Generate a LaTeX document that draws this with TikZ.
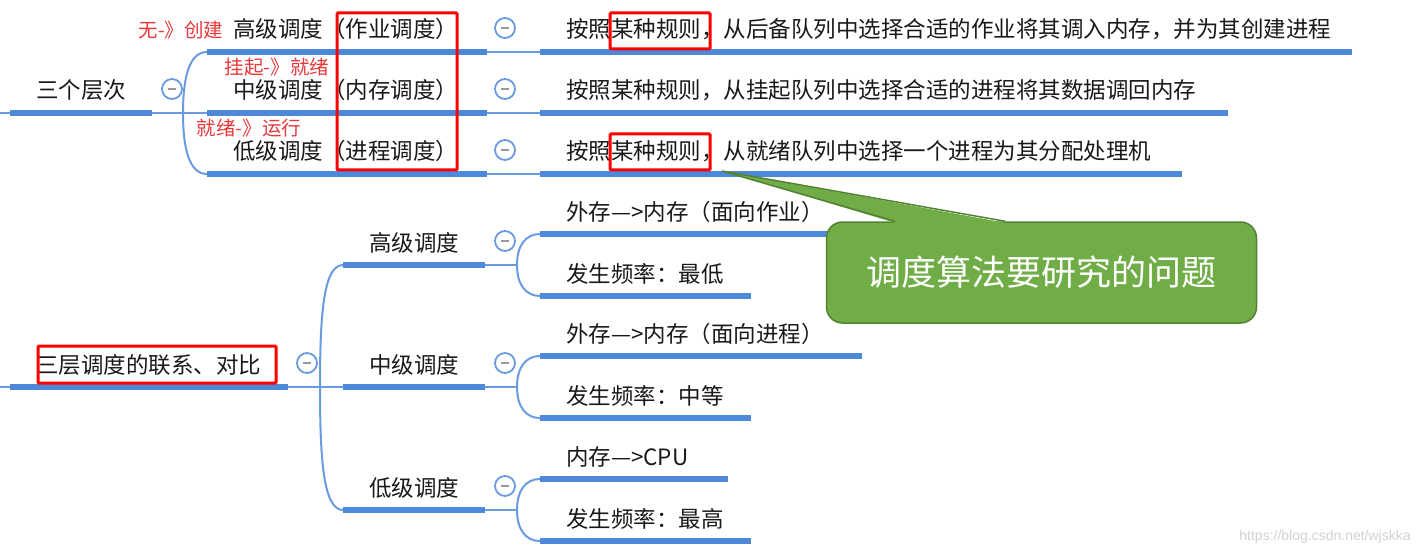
\documentclass[tikz,border=0pt]{standalone}
\usepackage{fontspec}
\newfontfamily\cjk{Noto Sans CJK SC}
\newfontfamily\wmfont{Liberation Sans}
\definecolor{barblue}{HTML}{4D88D9}
\definecolor{linkblue}{HTML}{6A9BE0}
\definecolor{markred}{HTML}{FF0000}
\definecolor{notered}{HTML}{E8383A}
\definecolor{tipgreen}{HTML}{70AD47}
\definecolor{tipedge}{HTML}{548235}
\begin{document}
  \begin{tikzpicture}[x=1pt, y=-1pt,
      topic/.style={anchor=south west, outer sep=0pt, inner xsep=26pt, inner ysep=10pt,
        text height=16pt, text depth=4pt, text width=#1, align=left,
        font=\cjk\fontsize{22.5}{27}\selectfont, text=black!90},
      thickbar/.style={barblue, line width=6pt},
      link/.style={linkblue, line width=2pt},
      fold/.style={circle, draw=linkblue, line width=1.8pt, fill=white, minimum size=20pt, inner sep=0pt,
        path picture={\draw [black!40, line width=2.5pt] ([xshift=-4pt]path picture bounding box.center) -- ([xshift=4pt]path picture bounding box.center);}},
      hl/.style={draw=markred, line width=3pt, rounded corners=1pt},
      note/.style={text=notered, font=\cjk\fontsize{19.5}{23}\selectfont},
      bubble/.style={draw=tipedge, fill=tipgreen, line width=1.5pt, rounded corners=16pt,
        minimum width=430pt, minimum height=101pt, text=white, font=\cjk\fontsize{35}{40}\selectfont},
      wm/.style={text=black!18, font=\wmfont\fontsize{14}{16}\selectfont}]
    \useasboundingbox (0, 0) rectangle (1426, 556);
    \node [topic=90pt] (T0) at (10, 113) {三个层次};
    \node [topic=228pt] (A1) at (207, 52) {高级调度（作业调度）};
    \node [topic=228pt] (A2) at (207, 113) {中级调度（内存调度）};
    \node [topic=228pt] (A3) at (207, 174) {低级调度（进程调度）};
    \node [topic=760pt] (B1) at (540, 52) {按照某种规则，从后备队列中选择合适的作业将其调入内存，并为其创建进程};
    \node [topic=636pt] (B2) at (540, 113) {按照某种规则，从挂起队列中选择合适的进程将其数据调回内存};
    \node [topic=590pt] (B3) at (540, 174) {按照某种规则，从就绪队列中选择一个进程为其分配处理机};
    \node [note] (N1) at (181, 30) {无-》创建};
    \node [note] (N2) at (277, 67) {挂起-》就绪};
    \node [note] (N3) at (249, 128) {就绪-》运行};
    \node [topic=226pt] (S0) at (10, 387) {三层调度的联系、对比};
    \node [topic=90pt] (M1) at (343, 265) {高级调度};
    \node [topic=90pt] (M2) at (343, 387) {中级调度};
    \node [topic=90pt] (M3) at (343, 510) {低级调度};
    \node [topic=280pt] (D1) at (540, 234) {\mbox{外存—>内存（面向作业）}};
    \node [topic=159pt] (D2) at (540, 296) {发生频率：最低};
    \node [topic=270pt] (D3) at (540, 356) {\mbox{外存—>内存（面向进程）}};
    \node [topic=159pt] (D4) at (540, 418) {发生频率：中等};
    \node [topic=136pt] (D5) at (540, 479) {\mbox{内存—>CPU}};
    \node [topic=159pt] (D6) at (540, 541) {发生频率：最高};
    \coordinate (E0) at (0, 113);
    \coordinate (E1) at (0, 387);
    \draw [link] (E0) to (T0.south west);
    \draw [link] (T0.south east) -- ++(31, 0) coordinate (J0);
    \draw [link] (J0) .. controls +(0, -35) and +(-18, 0) .. (A1.south west);
    \draw [link] (J0) to (A2.south west);
    \draw [link] (J0) .. controls +(0, 35) and +(-18, 0) .. (A3.south west);
    \draw [link] (A1.south east) to (B1.south west);
    \draw [link] (A2.south east) to (B2.south west);
    \draw [link] (A3.south east) to (B3.south west);
    \draw [link] (E1) to (S0.south west);
    \draw [link] (S0.south east) -- ++(32, 0) coordinate (J1);
    \draw [link] (J1) .. controls +(0, -70) and +(-20, 0) .. (M1.south west);
    \draw [link] (J1) to (M2.south west);
    \draw [link] (J1) .. controls +(0, 70) and +(-20, 0) .. (M3.south west);
    \draw [link] (M1.south east) -- ++(32, 0) coordinate (K1);
    \draw [link] (K1) .. controls +(0, -20) and +(-14, 0) .. (D1.south west);
    \draw [link] (K1) .. controls +(0, 20) and +(-14, 0) .. (D2.south west);
    \draw [link] (M2.south east) -- ++(32, 0) coordinate (K2);
    \draw [link] (K2) .. controls +(0, -20) and +(-14, 0) .. (D3.south west);
    \draw [link] (K2) .. controls +(0, 20) and +(-14, 0) .. (D4.south west);
    \draw [link] (M3.south east) -- ++(32, 0) coordinate (K3);
    \draw [link] (K3) .. controls +(0, -20) and +(-14, 0) .. (D5.south west);
    \draw [link] (K3) .. controls +(0, 20) and +(-14, 0) .. (D6.south west);
    \draw [thickbar] (T0.south west) to (T0.south east);
    \draw [thickbar] (A1.south west) to (A1.south east);
    \draw [thickbar] (A2.south west) to (A2.south east);
    \draw [thickbar] (A3.south west) to (A3.south east);
    \draw [thickbar] (B1.south west) to (B1.south east);
    \draw [thickbar] (B2.south west) to (B2.south east);
    \draw [thickbar] (B3.south west) to (B3.south east);
    \draw [thickbar] (S0.south west) to (S0.south east);
    \draw [thickbar] (M1.south west) to (M1.south east);
    \draw [thickbar] (M2.south west) to (M2.south east);
    \draw [thickbar] (M3.south west) to (M3.south east);
    \draw [thickbar] (D1.south west) to (D1.south east);
    \draw [thickbar] (D2.south west) to (D2.south east);
    \draw [thickbar] (D3.south west) to (D3.south east);
    \draw [thickbar] (D4.south west) to (D4.south east);
    \draw [thickbar] (D5.south west) to (D5.south east);
    \draw [thickbar] (D6.south west) to (D6.south east);
    \node [fold] (F0) at (172, 89) {};
    \node [fold] (F1) at (505, 28) {};
    \node [fold] (F2) at (505, 89) {};
    \node [fold] (F3) at (505, 150) {};
    \node [fold] (G0) at (307, 363) {};
    \node [fold] (G1) at (505, 241) {};
    \node [fold] (G2) at (505, 363) {};
    \node [fold] (G3) at (505, 486) {};
    \draw [hl] (337, 13) rectangle (457, 170);
    \draw [hl] (610, 13) rectangle (710, 49);
    \draw [hl] (610, 134) rectangle (710, 170);
    \draw [hl] (38, 346) rectangle (276, 383);
    \coordinate (tip) at (722, 171);
    \node [bubble] (Q) at (1041.5, 272.5) {调度算法要研究的问题};
    \fill [tipgreen] ([xshift=-146.5pt, yshift=-1.5pt]Q.north) -- (tip) -- ([xshift=-36.5pt, yshift=-1.5pt]Q.north) -- cycle;
    \draw [tipedge, line width=1.5pt, line join=round] ([xshift=-146.5pt]Q.north) -- (tip) -- ([xshift=-36.5pt]Q.north);
    \node [wm] (W) at (1325, 537) {https://blog.csdn.net/wjskka};
  \end{tikzpicture}
\end{document}
